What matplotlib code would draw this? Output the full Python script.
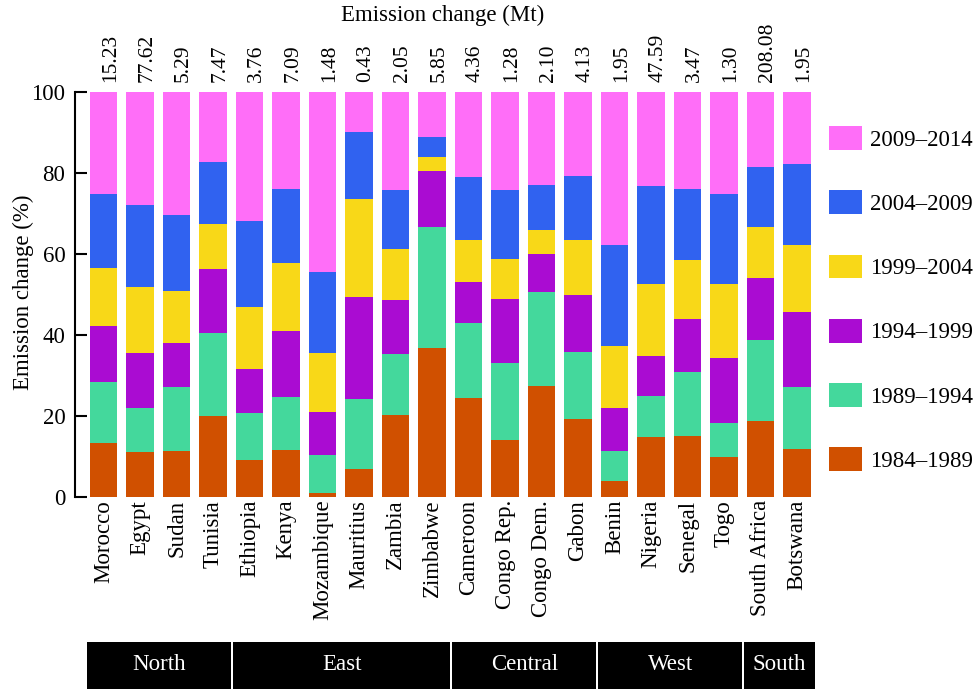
import numpy as np
import matplotlib
matplotlib.use('Agg')
import matplotlib.pyplot as plt
from matplotlib.patches import Rectangle
from matplotlib.transforms import blended_transform_factory

plt.rcParams['font.family'] = ['Liberation Serif', 'DejaVu Serif']

countries = ['Morocco', 'Egypt', 'Sudan', 'Tunisia', 'Ethiopia', 'Kenya', 'Mozambique',
             'Mauritius', 'Zambia', 'Zimbabwe', 'Cameroon', 'Congo Rep.', 'Congo Dem.',
             'Gabon', 'Benin', 'Nigeria', 'Senegal', 'Togo', 'South Africa', 'Botswana']
totals = [15.23, 77.62, 5.29, 7.47, 3.76, 7.09, 1.48, 0.43, 2.05, 5.85,
          4.36, 1.28, 2.10, 4.13, 1.95, 47.59, 3.47, 1.30, 208.08, 1.95]
regions = ['North', 'East', 'Central', 'West', 'South']
region_sizes = [4, 6, 4, 4, 2]

periods = ['1984–1989', '1989–1994', '1994–1999', '1999–2004', '2004–2009', '2009–2014']
# share of total change (%) for each period
p1984 = [13.3, 11.0, 11.4, 20.0, 9.1, 11.6, 1.0, 6.9, 20.2, 36.9, 24.4, 14.0, 27.4, 19.3, 4.0, 14.8, 15.0, 9.9, 18.8, 11.8]
p1989 = [15.0, 11.0, 15.7, 20.6, 11.7, 13.2, 9.3, 17.4, 15.0, 29.7, 18.5, 19.2, 23.2, 16.5, 7.3, 10.2, 15.8, 8.4, 20.0, 15.4]
p1994 = [14.0, 13.5, 11.0, 15.8, 10.7, 16.3, 10.6, 25.1, 13.4, 13.8, 10.2, 15.6, 9.4, 14.0, 10.6, 9.8, 13.2, 15.9, 15.3, 18.5]
p1999 = [14.2, 16.4, 12.8, 11.0, 15.5, 16.6, 14.6, 24.2, 12.6, 3.5, 10.4, 9.9, 6.0, 13.7, 15.3, 17.7, 14.5, 18.3, 12.6, 16.5]
p2004 = [18.3, 20.2, 18.7, 15.2, 21.1, 18.4, 20.1, 16.6, 14.5, 4.9, 15.5, 17.0, 11.0, 15.7, 24.9, 24.3, 17.5, 22.4, 14.9, 19.9]
p2009 = [25.2, 27.9, 30.4, 17.4, 31.9, 23.9, 44.4, 9.8, 24.3, 11.2, 21.0, 24.3, 23.0, 20.8, 37.9, 23.2, 24.0, 25.1, 18.4, 17.9]
shares = [p1984, p1989, p1994, p1999, p2004, p2009]
colors = ['#D05000', '#44D89C', '#AA0CD2', '#F8D818', '#3062F0', '#FF6EF8']

fs = 16.5
fig = plt.figure(figsize=(9.77, 6.89), dpi=100)
ax = fig.add_axes([75/977, 1-497/689, 741/977, 405/689])

x = np.arange(len(countries))
bottom = np.zeros(len(countries))
handles = []
for vals, col, lab in zip(shares, colors, periods):
    b = ax.bar(x, vals, width=0.75, bottom=bottom, color=col, label=lab, linewidth=0)
    handles.append(b)
    bottom += np.array(vals)

ax.set_xlim(-0.786, 19.52)
ax.set_ylim(0, 100)
ax.set_yticks([0, 20, 40, 60, 80, 100])
ax.tick_params(axis='y', direction='in', length=8.5, width=1.5, pad=7, labelsize=fs)
ax.set_xticks(x)
ax.set_xticklabels(countries, rotation=90, fontsize=fs)
ax.tick_params(axis='x', length=0, pad=2)
for s in ['top', 'right', 'bottom']:
    ax.spines[s].set_visible(False)
ax.spines['left'].set_linewidth(1.5)

# total change above each bar
for xi, t in zip(x, totals):
    ax.annotate('%.2f' % t, (xi, 100), xytext=(7, 10), textcoords='offset pixels',
                rotation=90, ha='center', va='bottom', fontsize=15.5)

fig.text(443/977, 1-15/689, 'Emission change (Mt)', ha='center', va='center', fontsize=fs)
fig.text(23/977, 1-292/689, 'Emission change (%)', ha='center', va='center',
         rotation=90, fontsize=fs)

ax.legend(handles[::-1], periods[::-1], loc='upper left', frameon=False,
          bbox_to_anchor=(829/977, 1-126/689), bbox_transform=fig.transFigure,
          borderpad=0, borderaxespad=0, fontsize=fs, handlelength=1.44,
          handleheight=1.22, handletextpad=0.35, labelspacing=1.73)

# region bands under the country names
trans = blended_transform_factory(ax.transData, fig.transFigure)
start = 0
for name, n in zip(regions, region_sizes):
    x0 = start - 0.45
    x1 = start + n - 1 + 0.5
    ax.add_patch(Rectangle((x0, 0), x1 - x0, 47/689, transform=trans,
                           facecolor='black', edgecolor='none', clip_on=False))
    ax.text((x0 + x1) / 2, 24/689, name, transform=trans, color='white',
            ha='center', va='center', fontsize=fs)
    start += n

fig.savefig('out.png', dpi=100)
